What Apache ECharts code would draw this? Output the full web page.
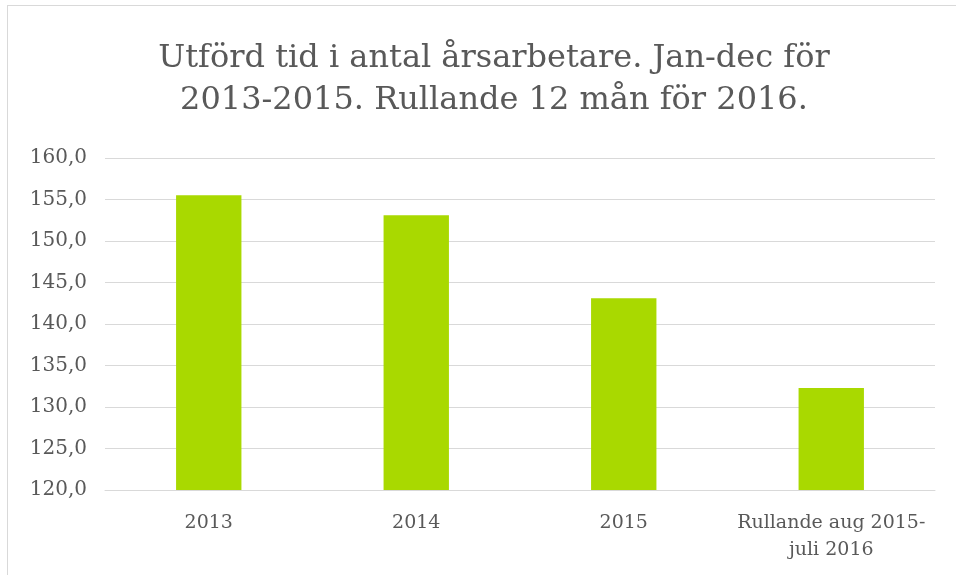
<!DOCTYPE html>
<html lang="sv">
	<head>
		<meta charset="utf-8">
		<title>Utförd tid</title>
		<style>
			html, body { margin: 0; padding: 0; background: #fff; }
			.frame {
				position: absolute; left: 7px; top: 5px; width: 960px; height: 600px;
				border: 1px solid #d9d9d9; box-sizing: border-box;
			}
			#main { position: absolute; left: 0; top: 0; width: 956px; height: 575px; }
		</style>
	</head>
	<body>
		<div class="frame"></div>
		<div id="main"></div>
		<script src="https://cdn.jsdelivr.net/npm/echarts@6/dist/echarts.min.js"></script>
		<script>
			var categories = ["2013", "2014", "2015", "Rullande aug 2015-\njuli 2016"];
			var values = [155.5, 153.1, 143.1, 132.3];
			var yTicks = [120, 125, 130, 135, 140, 145, 150, 155, 160];

			var font = "'DejaVu Serif', 'Liberation Serif', serif";
			var myChart = echarts.init(document.getElementById('main'));
			myChart.setOption({
				backgroundColor: 'transparent',
				animation: false,
				title: {
					text: "Utförd tid i antal årsarbetare. Jan-dec för\n2013-2015. Rullande 12 mån för 2016.",
					left: 489,
					textAlign: 'center',
					top: 33,
					textStyle: {
						fontFamily: font,
						fontWeight: 'normal',
						fontSize: 32,
						lineHeight: 42,
						color: '#595959'
					}
				},
				grid: { left: 105, right: 21, top: 158, bottom: 85 },
				xAxis: {
					type: 'category',
					data: categories,
					axisTick: { show: false },
					axisLine: { lineStyle: { color: '#d9d9d9', width: 1 } },
					axisLabel: {
						interval: 0,
						margin: 20,
						fontFamily: font,
						fontSize: 19,
						lineHeight: 27,
						color: '#595959'
					}
				},
				yAxis: {
					type: 'value',
					min: yTicks[0],
					max: yTicks[yTicks.length - 1],
					interval: 5,
					axisLine: { show: false },
					axisTick: { show: false },
					splitLine: { lineStyle: { color: '#d9d9d9', width: 1 } },
					axisLabel: {
						margin: 18,
						fontFamily: font,
						fontSize: 20,
						color: '#595959',
						formatter: function (v) { return v.toFixed(1).replace('.', ','); }
					}
				},
				series: [{
					type: 'bar',
					data: values,
					barWidth: '31.5%',
					itemStyle: { color: '#a9d900' }
				}]
			});
		</script>
	</body>
</html>
